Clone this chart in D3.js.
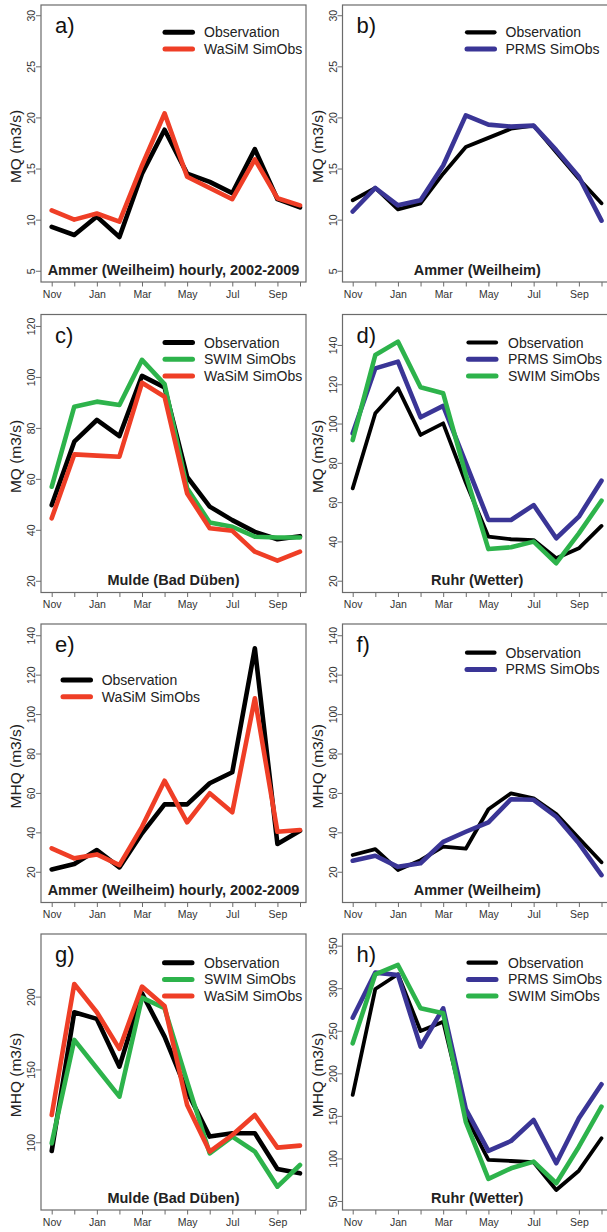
<!DOCTYPE html>
<html>
<head>
<meta charset="utf-8">
<script src="https://cdn.jsdelivr.net/npm/d3@7"></script>
<style>
  html, body { margin: 0; padding: 0; background: #fff; }
  svg { display: block; font-family: "Liberation Sans", Arial, Helvetica, sans-serif; }
</style>
</head>
<body>
<svg id="chart" width="607" height="1232"></svg>
<script>
// Months of the hydrological year (November to October)
const months = ["Nov","Dec","Jan","Feb","Mar","Apr","May","Jun","Jul","Aug","Sep","Oct"];
const monthTickLabels = ["Nov","","Jan","","Mar","","May","","Jul","","Sep",""];

// Mean monthly discharge MQ (m3/s)
const mqAmmerHourlyObs   = [9.3, 8.5, 10.3, 8.3, 14.5, 18.8, 14.5, 13.7, 12.6, 16.9, 12.0, 11.2];
const mqAmmerHourlyWasim = [10.9, 10.0, 10.6, 9.8, 15.3, 20.4, 14.2, 13.1, 12.0, 15.9, 12.1, 11.4];
const mqAmmerObs         = [11.9, 13.1, 11.0, 11.6, 14.5, 17.1, 18.0, 18.9, 19.2, 16.6, 14.0, 11.6];
const mqAmmerPrms        = [10.8, 13.1, 11.4, 11.9, 15.3, 20.2, 19.3, 19.1, 19.2, 16.8, 14.2, 9.9];
const mqMuldeObs         = [49.7, 74.6, 83.1, 76.8, 100.4, 95.9, 60.8, 49.1, 43.8, 39.2, 36.3, 37.5];
const mqMuldeSwim        = [56.9, 88.3, 90.3, 89.0, 106.7, 97.2, 56.3, 42.9, 41.2, 37.3, 37.0, 37.0];
const mqMuldeWasim       = [44.5, 69.6, 69.1, 68.7, 97.7, 92.2, 54.3, 40.6, 39.6, 31.4, 27.9, 31.4];
const mqRuhrObs          = [67.0, 105.2, 118.0, 94.2, 100.1, 70.0, 42.4, 41.1, 40.7, 31.4, 36.5, 47.9];
const mqRuhrPrms         = [95.0, 128.1, 131.5, 103.2, 109.0, 80.0, 50.9, 50.9, 58.5, 41.6, 52.6, 70.9];
const mqRuhrSwim         = [91.6, 134.9, 141.7, 118.5, 115.4, 74.0, 36.1, 37.0, 39.9, 28.9, 44.1, 60.7];

// Mean monthly flood discharge MHQ (m3/s)
const mhqAmmerHourlyObs   = [21.2, 23.9, 31.0, 22.2, 39.5, 54.2, 54.2, 64.9, 70.5, 133.4, 34.1, 40.8];
const mhqAmmerHourlyWasim = [31.9, 26.8, 28.8, 23.4, 42.8, 66.2, 45.1, 59.8, 50.2, 108.0, 40.3, 41.2];
const mhqAmmerObs         = [28.5, 31.5, 20.9, 25.9, 32.7, 31.7, 51.7, 59.8, 57.3, 49.3, 37.0, 24.8];
const mhqAmmerPrms        = [25.6, 28.1, 22.5, 24.3, 35.2, 40.3, 45.1, 56.8, 56.5, 47.9, 34.4, 18.3];
const mhqMuldeObs         = [94.0, 189.3, 184.7, 151.9, 202.3, 172.5, 134.8, 103.9, 106.2, 106.2, 81.7, 78.7];
const mhqMuldeSwim        = [99.3, 170.3, 150.8, 131.3, 199.3, 192.0, 141.6, 92.4, 103.9, 93.6, 69.5, 84.4];
const mhqMuldeWasim       = [118.7, 208.7, 189.3, 164.1, 206.9, 193.6, 125.6, 93.6, 105.0, 118.7, 96.3, 97.7];
const mhqRuhrObs          = [174.6, 299.1, 316.4, 249.8, 260.7, 150.0, 98.2, 97.0, 95.5, 62.9, 85.6, 123.7];
const mhqRuhrPrms         = [265.4, 318.3, 315.6, 231.3, 276.4, 158.0, 108.8, 120.5, 145.2, 94.3, 147.2, 187.1];
const mhqRuhrSwim         = [235.3, 316.4, 327.3, 276.4, 270.6, 143.0, 75.9, 88.4, 96.2, 70.8, 113.8, 160.8];

// Series names and colours
const seriesNames = { obs: "Observation", wasim: "WaSiM SimObs", prms: "PRMS SimObs", swim: "SWIM SimObs" };
const seriesColors = { obs: "#000000", wasim: "#ef3e26", prms: "#3a3596", swim: "#2db34b" };

// Y tick values per panel
const ticksAmmerMQ = [5, 10, 15, 20, 25, 30];
const ticksMuldeMQ = [20, 40, 60, 80, 100, 120];
const ticksRuhrMQ  = [20, 40, 60, 80, 100, 120, 140];
const ticksAmmerMHQ = [20, 40, 60, 80, 100, 120, 140];
const ticksMuldeMHQ = [100, 150, 200];
const ticksRuhrMHQ  = [50, 100, 150, 200, 250, 300, 350];

// Panel grid geometry
const cols = [
  { x0: 41,    x1: 306, first: 51.7,  last: 300.0 },
  { x0: 342.5, x1: 612, first: 352.7, last: 601.5 }
];
const rows = [
  { y0: 5,     y1: 282 },
  { y0: 314.5, y1: 592.5 },
  { y0: 624,   y1: 902.5 },
  { y0: 934,   y1: 1210 }
];

const panels = [
  { tag: "a)", col: 0, row: 0, yTitle: "MQ (m3/s)", yDomain: [3.9, 31.0], ticks: ticksAmmerMQ,
    station: "Ammer (Weilheim) hourly, 2002-2009", legend: { dx: 124, dy: 27.3, tx: 163 },
    series: [["obs", mqAmmerHourlyObs], ["wasim", mqAmmerHourlyWasim]] },
  { tag: "b)", col: 1, row: 0, yTitle: "MQ (m3/s)", yDomain: [3.9, 31.0], ticks: ticksAmmerMQ,
    station: "Ammer (Weilheim)", legend: { dx: 124.5, dy: 27.3, tx: 163 },
    series: [["obs", mqAmmerObs], ["prms", mqAmmerPrms]] },
  { tag: "c)", col: 0, row: 1, yTitle: "MQ (m3/s)", yDomain: [15.4, 124.5], ticks: ticksMuldeMQ,
    station: "Mulde (Bad Düben)", legend: { dx: 124, dy: 28, tx: 163 },
    series: [["obs", mqMuldeObs], ["swim", mqMuldeSwim], ["wasim", mqMuldeWasim]] },
  { tag: "d)", col: 1, row: 1, yTitle: "MQ (m3/s)", yDomain: [14.0, 155.5], ticks: ticksRuhrMQ,
    station: "Ruhr (Wetter)", legend: { dx: 126, dy: 28, tx: 165.5 },
    series: [["obs", mqRuhrObs], ["prms", mqRuhrPrms], ["swim", mqRuhrSwim]] },
  { tag: "e)", col: 0, row: 2, yTitle: "MHQ (m3/s)", yDomain: [4.4, 145.7], ticks: ticksAmmerMHQ,
    station: "Ammer (Weilheim) hourly, 2002-2009", legend: { dx: 22, dy: 56, tx: 60.7 },
    series: [["obs", mhqAmmerHourlyObs], ["wasim", mhqAmmerHourlyWasim]] },
  { tag: "f)", col: 1, row: 2, yTitle: "MHQ (m3/s)", yDomain: [4.4, 145.7], ticks: ticksAmmerMHQ,
    station: "Ammer (Weilheim)", legend: { dx: 124.5, dy: 28.7, tx: 163 },
    series: [["obs", mhqAmmerObs], ["prms", mhqAmmerPrms]] },
  { tag: "g)", col: 0, row: 3, yTitle: "MHQ (m3/s)", yDomain: [53.5, 243.0], ticks: ticksMuldeMHQ,
    station: "Mulde (Bad Düben)", legend: { dx: 123.5, dy: 28.7, tx: 163 },
    series: [["obs", mhqMuldeObs], ["swim", mhqMuldeSwim], ["wasim", mhqMuldeWasim]] },
  { tag: "h)", col: 1, row: 3, yTitle: "MHQ (m3/s)", yDomain: [39.4, 363.7], ticks: ticksRuhrMHQ,
    station: "Ruhr (Wetter)", legend: { dx: 126, dy: 28.7, tx: 165.5 },
    series: [["obs", mhqRuhrObs], ["prms", mhqRuhrPrms], ["swim", mhqRuhrSwim]] }
];

const svg = d3.select("#chart");
svg.append("rect").attr("width", 607).attr("height", 1232).attr("fill", "#fff");

const axisColor = "#6b6b6b";
const labelColor = "#333";

panels.forEach(p => {
  const c = cols[p.col], r = rows[p.row];
  const g = svg.append("g");

  const x = d3.scalePoint().domain(months).range([c.first, c.last]);
  const y = d3.scaleLinear().domain(p.yDomain).range([r.y1, r.y0]);

  // x axis: ticks at every month, labels on alternate months
  const xAxis = d3.axisBottom(x).tickSize(4.5).tickPadding(4)
    .tickFormat((d, i) => monthTickLabels[i]);
  const gx = g.append("g").attr("transform", `translate(0,${r.y1})`).call(xAxis);
  gx.select(".domain").remove();
  gx.selectAll(".tick line").attr("stroke", axisColor).attr("stroke-width", 1);
  gx.selectAll(".tick text").attr("fill", labelColor).attr("font-size", 10.5)
    .attr("font-family", "Liberation Sans, Arial, sans-serif");

  // y axis: rotated tick labels, as in base R graphics
  const yAxis = d3.axisLeft(y).tickValues(p.ticks).tickSize(5).tickFormat(d3.format("d"));
  const gy = g.append("g").attr("transform", `translate(${c.x0},0)`).call(yAxis);
  gy.select(".domain").remove();
  gy.selectAll(".tick line").attr("stroke", axisColor).attr("stroke-width", 1);
  gy.selectAll(".tick text")
    .attr("x", null).attr("dy", null)
    .attr("transform", "translate(-6,0) rotate(-90)")
    .attr("text-anchor", "middle")
    .attr("fill", labelColor).attr("font-size", 10.5)
    .attr("font-family", "Liberation Sans, Arial, sans-serif");

  // plot frame
  g.append("rect")
    .attr("x", c.x0).attr("y", r.y0)
    .attr("width", c.x1 - c.x0).attr("height", r.y1 - r.y0)
    .attr("fill", "none").attr("stroke", axisColor).attr("stroke-width", 1.2);

  // y axis title
  g.append("text")
    .attr("transform", `translate(${c.x0 - 20},${(r.y0 + r.y1) / 2 + 3}) rotate(-90)`)
    .attr("text-anchor", "middle")
    .attr("font-size", 15.5).attr("fill", "#222")
    .text(p.yTitle);

  // series lines
  const line = d3.line().x((d, i) => x(months[i])).y(d => y(d));
  p.series.forEach(([key, vals]) => {
    g.append("path")
      .datum(vals)
      .attr("d", line)
      .attr("fill", "none")
      .attr("stroke", seriesColors[key])
      .attr("stroke-width", key === "obs" && p.col === 1 ? 3.8 : 4.6)
      .attr("stroke-linejoin", "round")
      .attr("stroke-linecap", "round");
  });

  // panel tag
  g.append("text")
    .attr("x", c.x0 + 14).attr("y", r.y0 + 28)
    .attr("font-size", 22).attr("fill", "#111")
    .text(p.tag);

  // station label
  g.append("text")
    .attr("x", (c.x0 + c.x1) / 2).attr("y", r.y1 - 7.5)
    .attr("text-anchor", "middle")
    .attr("font-size", 14.5).attr("font-weight", "bold").attr("fill", "#222")
    .text(p.station);

  // legend
  const lg = g.append("g");
  p.series.forEach(([key], i) => {
    const ly = r.y0 + p.legend.dy + i * 16.7;
    lg.append("line")
      .attr("x1", c.x0 + p.legend.dx).attr("x2", c.x0 + p.legend.dx + 27.5)
      .attr("y1", ly).attr("y2", ly)
      .attr("stroke", seriesColors[key])
      .attr("stroke-width", key === "obs" && p.col === 1 ? 4.2 : 5)
      .attr("stroke-linecap", "round");
    lg.append("text")
      .attr("x", c.x0 + p.legend.tx).attr("y", ly + 5)
      .attr("font-size", 14).attr("fill", "#222")
      .text(seriesNames[key]);
  });
});
</script>
</body>
</html>
